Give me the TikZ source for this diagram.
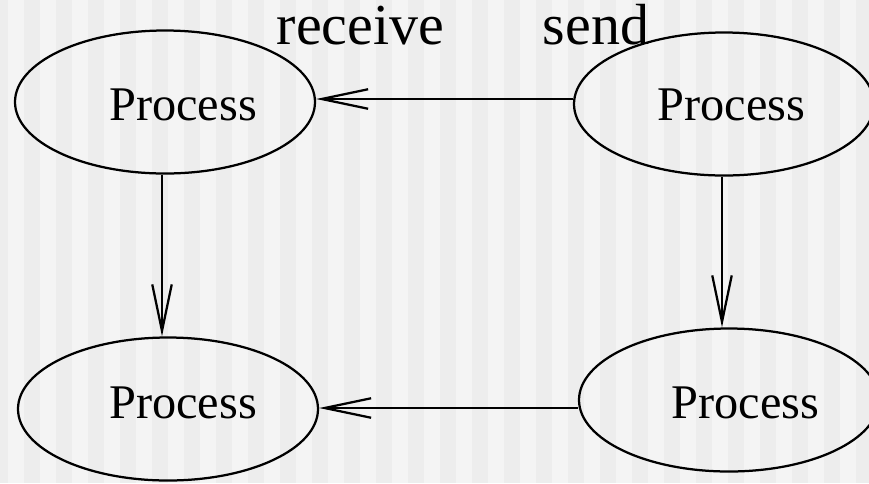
\documentclass[tikz,border=0pt]{standalone}
\usepackage{fontspec}
\setmainfont{Liberation Serif}
\usepackage{tikz}
\usepackage{xcolor}
\usetikzlibrary{calc,arrows.meta,shapes.geometric}

\definecolor{stripelight}{gray}{0.957}
\definecolor{stripedark}{gray}{0.928}

\begin{document}
\begin{tikzpicture}
        \tikzstyle{proc}=[draw,ellipse,line width=0.045cm,minimum width=6cm,minimum height=2.86cm,inner sep=0pt]
        \tikzstyle{txt}=[inner sep=0pt,font=\fontsize{27.5}{32}\selectfont]
        \tikzstyle{lbl}=[inner sep=0pt,anchor=base,font=\fontsize{33}{38}\selectfont]
        \tikzstyle{arr}=[line width=0.045cm,-{Straight Barb[length=0.93cm,width=0.39cm]}]

            % striped background
            \useasboundingbox (0,0) rectangle (17.38,-9.66);
            \fill[stripelight] (0,0) rectangle (17.38,-9.66);
            \foreach \i in {0,...,27} {
                \fill[stripedark] (-0.16+0.64*\i,0) rectangle (0.16+0.64*\i,-9.66);
            }

            \node[proc] (P1) at (3.3,-2.04) {};
            \node[proc] (P2) at (14.48,-2.08) {};
            \node[proc] (P3) at (3.36,-8.18) {};
            \node[proc] (P4) at (14.58,-8.0) {};

            \node[txt] (T1) at ($(P1)+(0.36,-0.05)$) {Process};
            \node[txt] (T2) at ($(P2)+(0.15,-0.01)$) {Process};
            \node[txt] (T3) at ($(P3)+(0.30,0.13)$) {Process};
            \node[txt] (T4) at ($(P4)+(0.33,-0.05)$) {Process};

            \node[lbl] (recv) at (7.21,-0.88) {receive};
            \node[lbl] (send) at (11.92,-0.88) {send};

            \draw[arr] ([yshift=0.1cm]P2.west) -- ([yshift=0.1cm]P2.west -| P1.east);
            \draw[arr] ([yshift=-0.16cm]P4.west) -- ([yshift=-0.16cm]P4.west -| P3.east);
            \draw[arr] ([xshift=-0.06cm]P1.south) -- ([xshift=-0.06cm]P1.south |- P3.north);
            \draw[arr] ([xshift=-0.04cm]P2.south) -- ([xshift=-0.04cm]P2.south |- P4.north);

        \end{tikzpicture}
\end{document}
